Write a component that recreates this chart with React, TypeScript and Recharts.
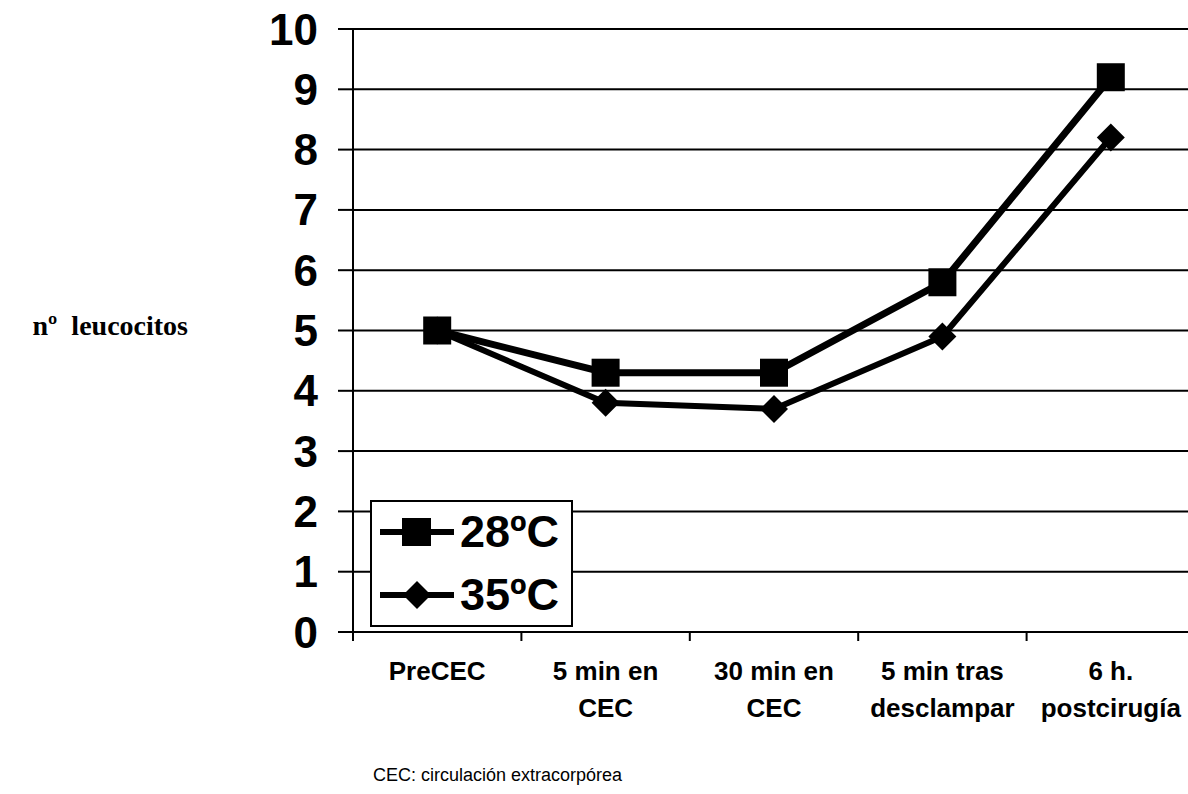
import React from 'react';
import { LineChart, Line, XAxis, YAxis, CartesianGrid, Legend } from 'recharts';

// Time points (two-line labels)
const categoryLine1 = ['PreCEC', '5 min en', '30 min en', '5 min tras', '6 h.'];
const categoryLine2 = ['', 'CEC', 'CEC', 'desclampar', 'postcirugía'];

// Leukocyte counts per group
const series28 = [5.0, 4.3, 4.3, 5.8, 9.2];
const series35 = [5.0, 3.8, 3.7, 4.9, 8.2];

const yTicks = [0, 1, 2, 3, 4, 5, 6, 7, 8, 9, 10];

const data = categoryLine1.map((c, i) => ({
  name: c,
  t28: series28[i],
  t35: series35[i],
}));

const SANS = '"Liberation Sans", Arial, sans-serif';

const SquareDot = (props: any) => {
  const { cx, cy } = props;
  if (cx == null || cy == null) return null;
  return <rect x={cx - 14} y={cy - 14} width={28} height={28} fill="#000" />;
};

const DiamondDot = (props: any) => {
  const { cx, cy } = props;
  if (cx == null || cy == null) return null;
  const r = 14;
  return (
    <polygon
      points={`${cx},${cy - r} ${cx + r},${cy} ${cx},${cy + r} ${cx - r},${cy}`}
      fill="#000"
    />
  );
};

const YTick = (props: any) => {
  const { x, y, payload } = props;
  return (
    <text
      x={x}
      y={y}
      textAnchor="end"
      dominantBaseline="central"
      fontFamily={SANS}
      fontWeight="bold"
      fontSize={44}
      fill="#000"
    >
      {payload.value}
    </text>
  );
};

// Category label centred in its band, with the tick mark drawn on the band's left edge
const XTick = (props: any) => {
  const { x, y, payload } = props;
  const idx = payload.index ?? categoryLine1.indexOf(payload.value);
  const half = payload.offset ?? 0;
  const edge = x - half;
  return (
    <g>
      <line x1={edge} x2={edge} y1={y} y2={y + 9} stroke="#000" strokeWidth={2} />
      <text
        x={x}
        y={y}
        textAnchor="middle"
        fontFamily={SANS}
        fontWeight="bold"
        fontSize={26}
        fill="#000"
      >
        <tspan x={x} dy={48}>{categoryLine1[idx]}</tspan>
        <tspan x={x} dy={37}>{categoryLine2[idx]}</tspan>
      </text>
    </g>
  );
};

const markerFor: Record<string, 'square' | 'diamond'> = {
  t28: 'square',
  t35: 'diamond',
};

const LegendBox = (props: any) => {
  const { payload = [] } = props;
  return (
    <div
      style={{
        width: 199,
        height: 123,
        border: '2px solid #000',
        background: '#fff',
      }}
    >
      <svg width={199} height={123}>
        {payload.map((entry: any, i: number) => {
          const cy = 30 + i * 63;
          const kind = markerFor[entry.dataKey];
          return (
            <g key={entry.dataKey}>
              <line x1={8} x2={82} y1={cy} y2={cy} stroke="#000" strokeWidth={6} />
              {kind === 'square' ? (
                <rect x={30} y={cy - 14} width={29} height={28} fill="#000" />
              ) : (
                <polygon
                  points={`45,${cy - 14} 59,${cy} 45,${cy + 14} 31,${cy}`}
                  fill="#000"
                />
              )}
              <text
                x={88}
                y={cy + 15}
                fontFamily={SANS}
                fontWeight="bold"
                fontSize={45}
                fill="#000"
              >
                {entry.value}
              </text>
            </g>
          );
        })}
      </svg>
    </div>
  );
};

export default function App() {
  return (
    <div
      style={{
        position: 'absolute',
        left: 0,
        top: 0,
        width: 1188,
        height: 794,
        overflow: 'hidden',
        background: '#fff',
      }}
    >
      <LineChart
        width={1200}
        height={794}
        data={data}
        margin={{ top: 29, right: 5, bottom: 0, left: 0 }}
      >
        <CartesianGrid vertical={false} stroke="#000" strokeWidth={2} />
        <XAxis
          dataKey="name"
          type="category"
          scale="band"
          interval={0}
          height={162}
          tickSize={0}
          tickMargin={0}
          axisLine={{ stroke: '#000', strokeWidth: 2 }}
          tickLine={false}
          tick={<XTick />}
        />
        <YAxis
          type="number"
          domain={[0, 10]}
          ticks={yTicks}
          interval={0}
          width={353}
          tickSize={15}
          tickMargin={20}
          axisLine={{ stroke: '#000', strokeWidth: 2 }}
          tickLine={{ stroke: '#000', strokeWidth: 2 }}
          tick={<YTick />}
        />
        <Legend
          layout="vertical"
          align="center"
          verticalAlign="middle"
          wrapperStyle={{ position: 'absolute', left: 370, top: 500, width: 203, height: 127 }}
          content={<LegendBox />}
        />
        <Line
          dataKey="t28"
          name="28ºC"
          stroke="#000"
          strokeWidth={7}
          dot={<SquareDot />}
          activeDot={false}
          isAnimationActive={false}
        />
        <Line
          dataKey="t35"
          name="35ºC"
          stroke="#000"
          strokeWidth={6}
          dot={<DiamondDot />}
          activeDot={false}
          isAnimationActive={false}
        />
      </LineChart>
      <div
        style={{
          position: 'absolute',
          right: 1188 - 188,
          top: 312,
          fontFamily: '"Liberation Serif", "Times New Roman", serif',
          fontWeight: 'bold',
          fontSize: 28,
          lineHeight: '28px',
          whiteSpace: 'nowrap',
        }}
      >
        nº&nbsp;&nbsp;leucocitos
      </div>
      <div
        style={{
          position: 'absolute',
          left: 373,
          top: 765,
          fontFamily: SANS,
          fontSize: 18,
          whiteSpace: 'nowrap',
        }}
      >
        CEC: circulación extracorpórea
      </div>
    </div>
  );
}
